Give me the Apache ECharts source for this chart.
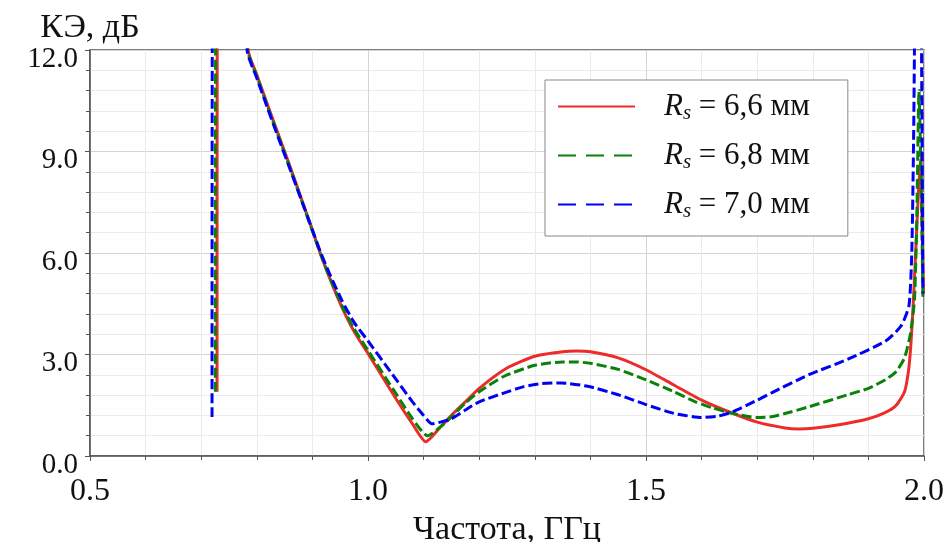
<!DOCTYPE html>
<html><head><meta charset="utf-8">
<script src="https://cdn.jsdelivr.net/npm/echarts@6/dist/echarts.min.js"></script>
<style>html,body{margin:0;padding:0;background:#fff}#c{width:952px;height:542px}</style>
</head><body><div id="c"></div>
<script>
// ---- data ----
const seriesNames = ['Rs = 6,6 мм', 'Rs = 6,8 мм', 'Rs = 7,0 мм'];
const legendValues = ['6,6', '6,8', '7,0'];
const xTicks = [0.5, 1.0, 1.5, 2.0];
const yTicks = [0, 3, 6, 9, 12];

const redX = [0.7285,0.7288,0.74,0.77,0.7845,0.80,0.82,0.84,0.86,0.881,0.90,0.914,0.93,0.953,0.975,1.0,1.05,1.08,1.104,1.13,1.15,1.175,1.2,1.25,1.3,1.35,1.375,1.4,1.45,1.5,1.55,1.6,1.65,1.7,1.75,1.775,1.8,1.85,1.9,1.93,1.95,1.965,1.972,1.976,1.98,1.985,1.99,1.994,1.997,1.999];
const redY = [1.9,12.5,30,30,12.0,11.27,10.35,9.45,8.55,7.57,6.68,6.0,5.3,4.4,3.68,3.03,1.7,0.95,0.42,0.85,1.2,1.6,2.0,2.6,2.95,3.08,3.1,3.08,2.9,2.55,2.1,1.65,1.3,1.0,0.83,0.8,0.82,0.93,1.1,1.28,1.5,1.9,2.5,3.2,4.3,6.0,7.8,8.8,6.5,4.8];

const greenX = [0.7255,0.726,0.74,0.77,0.7835,0.80,0.82,0.84,0.86,0.881,0.90,0.914,0.93,0.953,0.975,1.0,1.05,1.08,1.107,1.14,1.175,1.2,1.244,1.3,1.35,1.375,1.4,1.45,1.5,1.55,1.588,1.62,1.656,1.698,1.725,1.76,1.794,1.863,1.9,1.931,1.95,1.965,1.976,1.983,1.987,1.991,1.995,1.998];
const greenY = [1.9,12.5,30,30,12.0,11.22,10.3,9.4,8.5,7.53,6.65,6.0,5.32,4.45,3.76,3.12,1.85,1.1,0.6,1.0,1.56,1.9,2.35,2.68,2.78,2.78,2.74,2.56,2.25,1.9,1.61,1.42,1.26,1.14,1.16,1.3,1.46,1.81,2.0,2.26,2.5,2.9,3.65,4.65,7.0,10.8,8.0,4.7];

const blueX = [0.7195,0.72,0.74,0.77,0.7825,0.80,0.82,0.84,0.86,0.881,0.90,0.914,0.93,0.953,0.975,1.0,1.04,1.08,1.1,1.115,1.13,1.15,1.175,1.2,1.244,1.28,1.313,1.347,1.395,1.45,1.5,1.55,1.6,1.63,1.656,1.7,1.725,1.794,1.863,1.931,1.959,1.973,1.978,1.981,1.983,1.985,1.994,1.9955,1.997,1.998];
const blueY = [1.15,12.5,30,30,12.0,11.17,10.25,9.35,8.47,7.53,6.68,6.05,5.42,4.6,3.95,3.4,2.5,1.6,1.2,0.95,1.0,1.1,1.36,1.6,1.86,2.05,2.14,2.16,2.06,1.81,1.52,1.26,1.14,1.18,1.31,1.65,1.86,2.41,2.86,3.4,3.85,4.45,6.0,9.0,12.5,30,30,12.5,8.0,4.8];

// ---- chart ----
const zip = (a, b) => a.map((v, i) => [v, b[i]]);
const colors = ['#ee2b2b', '#0a820a', '#0000f5'];
const serif = 'Liberation Serif';
const chart = echarts.init(document.getElementById('c'), null, {renderer: 'canvas'});

const rich = {
  sp: {width: 24, fontSize: 31, lineHeight: 30},
  r: {fontFamily: serif, fontStyle: 'italic', fontSize: 31, color: '#111', lineHeight: 30},
  s: {fontFamily: serif, fontStyle: 'italic', fontSize: 21, color: '#111', padding: [14, 0, 0, 0], lineHeight: 30},
  t: {fontFamily: serif, fontSize: 31, color: '#111', lineHeight: 30}
};

const axisCommon = {
  axisLine: {show: true, onZero: false, lineStyle: {color: '#555', width: 1.5}},
  axisTick: {show: true, length: 5, lineStyle: {color: '#555'}},
  minorTick: {show: true, splitNumber: 5, length: 4, lineStyle: {color: '#555'}},
  splitLine: {show: true, lineStyle: {color: '#d4d4d4', width: 1}},
  minorSplitLine: {show: true, lineStyle: {color: '#ebebeb', width: 1}}
};

const lineSeries = (i, xs, ys, dash) => ({
  name: seriesNames[i], type: 'line', data: zip(xs, ys),
  symbol: 'none', showSymbol: false, clip: true, smooth: 0.2,
  lineStyle: {color: colors[i], width: 3, type: dash}, itemStyle: {color: colors[i]}, z: 3 + i
});

chart.setOption({
  animation: false,
  backgroundColor: '#fff',
  grid: {left: 90, right: 28, top: 50, bottom: 86, outerBoundsMode: 'none', containLabel: false,
    show: true, borderColor: '#555', borderWidth: 1.5, backgroundColor: 'transparent'},
  legend: {
    left: 545, top: 80, orient: 'vertical',
    padding: [9, 38, 14, 12],
    itemWidth: 77, itemHeight: 14, itemGap: 14,
    backgroundColor: '#fff', borderColor: '#888', borderWidth: 1,
    itemStyle: {opacity: 0},
    data: [
      {name: seriesNames[0]},
      {name: seriesNames[1], lineStyle: {type: [18, 10]}},
      {name: seriesNames[2], lineStyle: {type: [18, 10]}}
    ],
    formatter: function (name) {
      const i = seriesNames.indexOf(name);
      return '{sp|}{r|R}{s|s}{t| = ' + legendValues[i] + ' мм}';
    },
    textStyle: {rich: rich, lineHeight: 30}
  },
  xAxis: Object.assign({
    type: 'value', min: 0.5, max: 2.0, interval: 0.5,
    name: 'Частота, ГГц', nameLocation: 'middle', nameGap: 43,
    nameTextStyle: {fontFamily: serif, fontSize: 34, color: '#111'},
    axisLabel: {fontFamily: serif, fontSize: 32, color: '#111', margin: 20,
      formatter: v => v.toFixed(1)}
  }, axisCommon),
  yAxis: Object.assign({
    type: 'value', min: 0, max: 12, interval: 3,
    name: 'КЭ, дБ', nameLocation: 'end', nameGap: -2,
    nameTextStyle: {fontFamily: serif, fontSize: 34, color: '#111', align: 'center'},
    axisLabel: {fontFamily: serif, fontSize: 29, color: '#111', margin: 12,
      verticalAlign: 'top', lineHeight: 18,
      formatter: v => v.toFixed(1)}
  }, axisCommon),
  series: [
    lineSeries(0, redX, redY, 'solid'),
    lineSeries(1, greenX, greenY, [10, 4]),
    lineSeries(2, blueX, blueY, [10, 4])
  ]
});
</script></body></html>
